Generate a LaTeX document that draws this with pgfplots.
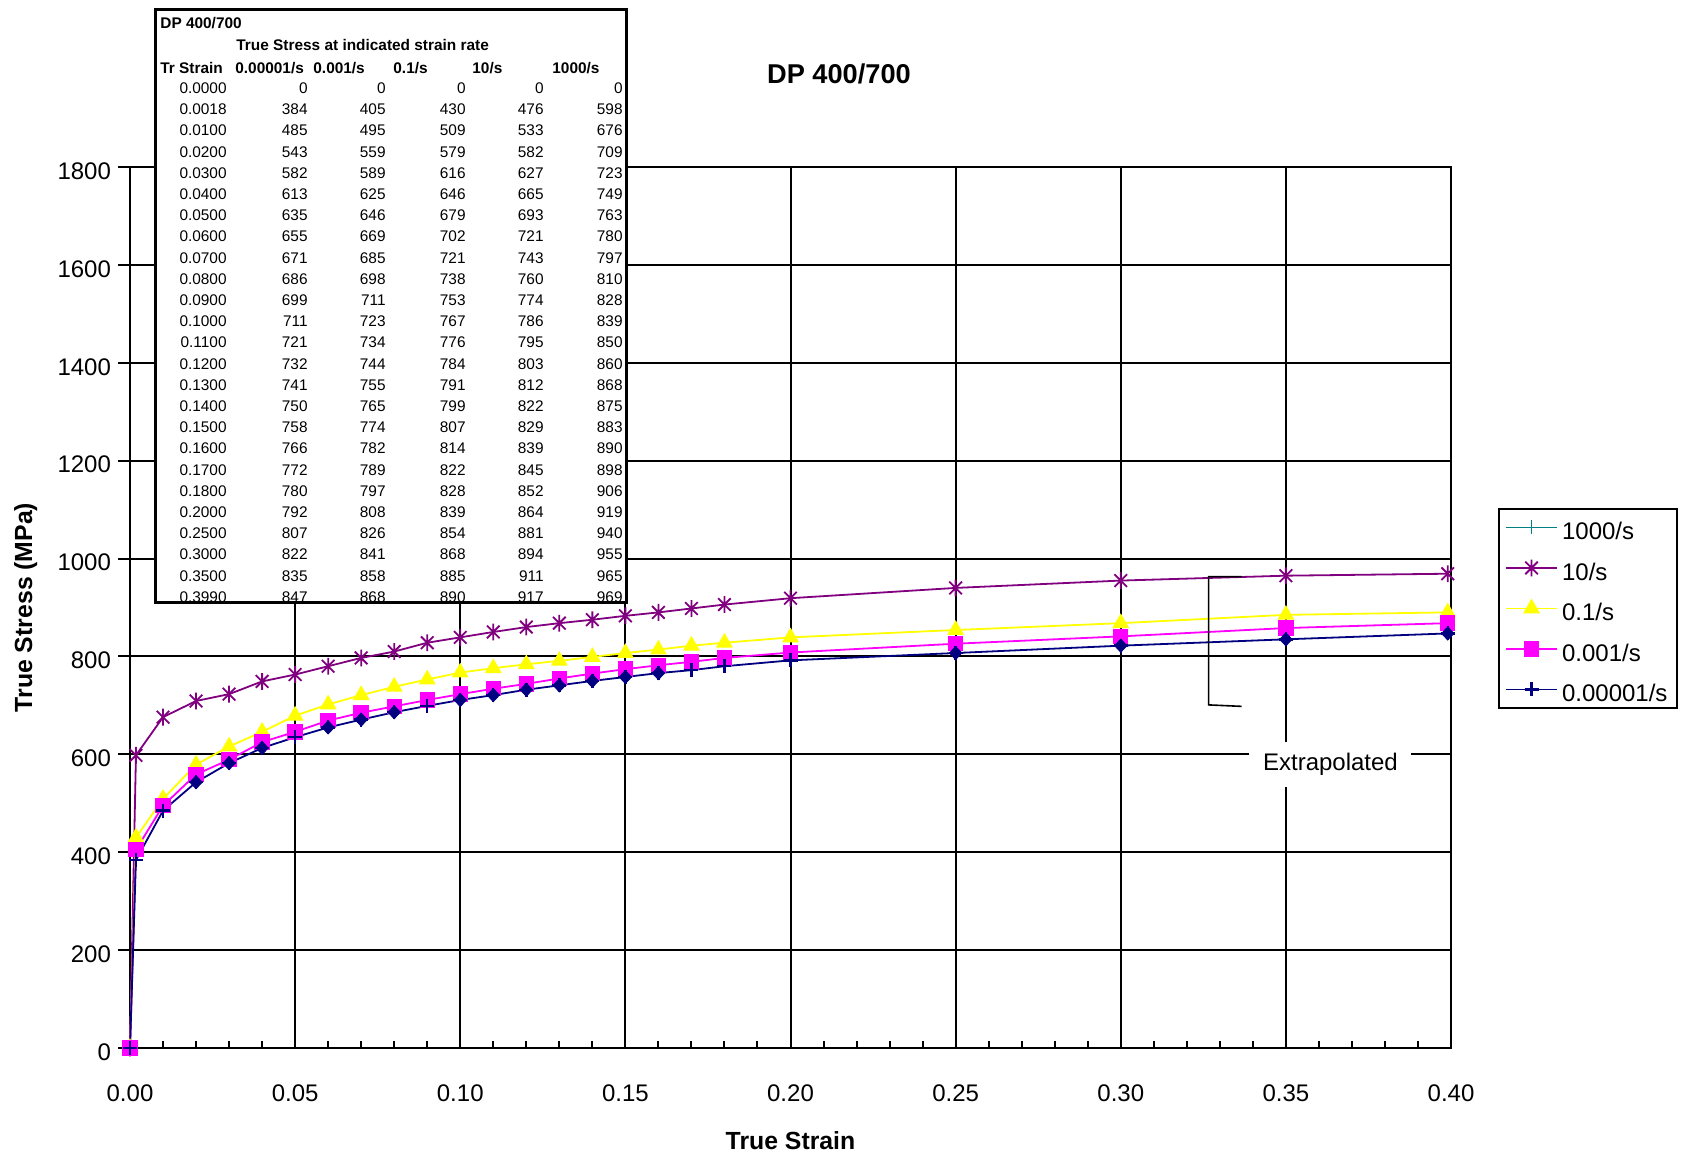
\documentclass[border=0pt]{standalone}
\usepackage{pgfplots}
\pgfplotsset{compat=1.18}
\usepackage{pgfplotstable}
\usepackage{fontspec}
\setmainfont{Liberation Sans}

\definecolor{cnavy}{RGB}{0,0,128}
\definecolor{cpurple}{RGB}{128,0,128}
\definecolor{cyellow}{RGB}{255,255,0}
\definecolor{cmagenta}{RGB}{255,0,255}
\definecolor{cteal}{RGB}{0,128,128}

\pgfdeclareplotmark{xstar}{%
  \pgfpathmoveto{\pgfqpoint{0pt}{\pgfplotmarksize}}%
  \pgfpathlineto{\pgfqpoint{0pt}{-\pgfplotmarksize}}%
  \pgfpathmoveto{\pgfqpoint{-.75\pgfplotmarksize}{.75\pgfplotmarksize}}%
  \pgfpathlineto{\pgfqpoint{.75\pgfplotmarksize}{-.75\pgfplotmarksize}}%
  \pgfpathmoveto{\pgfqpoint{-.75\pgfplotmarksize}{-.75\pgfplotmarksize}}%
  \pgfpathlineto{\pgfqpoint{.75\pgfplotmarksize}{.75\pgfplotmarksize}}%
  \pgfusepathqstroke}

\pgfplotstableread{
x s1 s2 s3 s4 s5
0.0000 0 0 0 0 0
0.0018 384 405 430 476 598
0.0100 485 495 509 533 676
0.0200 543 559 579 582 709
0.0300 582 589 616 627 723
0.0400 613 625 646 665 749
0.0500 635 646 679 693 763
0.0600 655 669 702 721 780
0.0700 671 685 721 743 797
0.0800 686 698 738 760 810
0.0900 699 711 753 774 828
0.1000 711 723 767 786 839
0.1100 721 734 776 795 850
0.1200 732 744 784 803 860
0.1300 741 755 791 812 868
0.1400 750 765 799 822 875
0.1500 758 774 807 829 883
0.1600 766 782 814 839 890
0.1700 772 789 822 845 898
0.1800 780 797 828 852 906
0.2000 792 808 839 864 919
0.2500 807 826 854 881 940
0.3000 822 841 868 894 955
0.3500 835 858 885 911 965
0.3990 847 868 890 917 969
}\datatable

\begin{document}
\begin{tikzpicture}
\useasboundingbox (0,0) rectangle (842pt,578.5pt);
\begin{axis}[
  at={(65pt,54.5pt)}, anchor=south west,
  scale only axis, width=660.5pt, height=440.5pt,
  xmin=0, xmax=0.4, ymin=0, ymax=1800,
  clip=false,
  xtick={0,0.05,0.1,0.15,0.2,0.25,0.3,0.35,0.4},
  ytick={0,200,400,600,800,1000,1200,1400,1600,1800},
  minor x tick num=4,
  xtick pos=bottom, ytick pos=left,
  tick align=inside,
  major tick length=6pt, minor tick length=3.5pt,
  ytick style={xshift=-6pt, line width=1pt, black},
  minor x tick style={line width=1pt, black},
  major x tick style={line width=1pt, black},
  grid=major,
  major grid style={black, line width=1pt},
  axis line style={line width=1pt, black},
  ticklabel style={font=\fontsize{12}{14}\selectfont},
  /pgf/number format/assume math mode=true,
  xticklabel style={yshift=-15pt, /pgf/number format/.cd, fixed, fixed zerofill, precision=2},
  yticklabel style={xshift=-6pt, yshift=-2pt, /pgf/number format/.cd, 1000 sep={}},
  xlabel={True Strain},
  ylabel={True Stress (MPa)},
  every axis x label/.style={at={(axis description cs:0.5,-0.1056)}, anchor=center, font=\bfseries\fontsize{12.4}{14}\selectfont},
  every axis y label/.style={at={(axis description cs:-0.079,0.5)}, rotate=90, anchor=center, font=\bfseries\fontsize{12.4}{14}\selectfont},
  legend style={at={(axis description cs:1.0356,0.613)}, anchor=north west, draw=black, line width=1pt, fill=white,
    font=\fontsize{12}{14}\selectfont, inner xsep=3pt, inner ysep=1pt, row sep=3.75pt,
    nodes={inner sep=2pt, text height=12.5pt, text depth=0pt}},
  legend cell align=left,
  legend image code/.code={\draw[mark repeat=2,mark phase=2,#1] plot coordinates {(0cm,0cm) (0.45cm,0cm) (0.9cm,0cm)};},
]
\addlegendimage{cteal, line width=0.9pt, mark=+, mark size=3.5pt}
\addlegendentry{1000/s}
\addplot[cpurple, line width=0.9pt, mark=xstar, mark size=4.2pt, mark options={line width=0.9pt}] table[x=x,y=s5] {\datatable};
\addlegendentry{10/s}
\addplot[cyellow, line width=0.9pt, mark=triangle*, mark size=4pt, mark options={fill=cyellow, draw=cyellow}] table[x=x,y=s3] {\datatable};
\addlegendentry{0.1/s}
\addplot[cmagenta, line width=0.9pt, mark=square*, mark size=3.4pt, mark options={fill=cmagenta, draw=cmagenta}] table[x=x,y=s2] {\datatable};
\addlegendentry{0.001/s}
\addplot[cnavy, line width=0.9pt, mark=+, mark size=3.5pt, mark options={line width=1.2pt}] table[x=x,y=s1] {\datatable};
\addlegendentry{0.00001/s\hspace{10pt}}
\addplot[forget plot, only marks, cnavy, mark=diamond*, mark size=3.3pt, mark options={xscale=1.25, fill=cnavy, draw=cnavy}] coordinates {
 (0.02,543) (0.03,582) (0.04,613) (0.06,655) (0.07,671) (0.08,686) (0.10,711) (0.11,721) (0.12,732)
 (0.13,741) (0.14,750) (0.15,758) (0.16,766) (0.25,807) (0.30,822) (0.35,835) (0.399,847)};
% extrapolated bracket
\draw[black, line width=0.8pt] (axis cs:0.3366,963) -- (axis cs:0.3266,963) -- (axis cs:0.3266,701) -- (axis cs:0.3366,698);
\node[fill=white, inner sep=0pt, minimum width=81pt, minimum height=22.5pt, font=\fontsize{12}{14}\selectfont] at (axis cs:0.3635,579) {Extrapolated};
\end{axis}

\begin{scope}[x=0.5pt, y=-0.5pt, shift={(0pt,578.5pt)}]
% title
\node[font=\bfseries\fontsize{13.6}{16}\selectfont, inner sep=0pt] at (839,74) {DP 400/700};
% inset table
\fill[white] (155,10) rectangle (626,603);
\begin{scope}
\clip (157,12) rectangle (624,601.5);
\begin{scope}[every node/.style={inner sep=0pt, font=\fontsize{7.7}{9}\selectfont}]
\node[anchor=base west, font=\bfseries\fontsize{7.7}{9}\selectfont] at (160,28.5) {DP 400/700};
\node[anchor=base west, font=\bfseries\fontsize{7.7}{9}\selectfont] at (236,50.5) {True Stress at indicated strain rate};
\node[anchor=base west, font=\bfseries\fontsize{7.7}{9}\selectfont] at (160,73.5) {Tr Strain};
\node[anchor=base west, font=\bfseries\fontsize{7.7}{9}\selectfont] at (235,73.5) {0.00001/s};
\node[anchor=base west, font=\bfseries\fontsize{7.7}{9}\selectfont] at (313,73.5) {0.001/s};
\node[anchor=base west, font=\bfseries\fontsize{7.7}{9}\selectfont] at (393,73.5) {0.1/s};
\node[anchor=base west, font=\bfseries\fontsize{7.7}{9}\selectfont] at (472,73.5) {10/s};
\node[anchor=base west, font=\bfseries\fontsize{7.7}{9}\selectfont] at (552,73.5) {1000/s};
\foreach \ri/\ra/\rb/\rc/\rd/\re/\rf in {
 0/0.0000/0/0/0/0/0,
 1/0.0018/384/405/430/476/598,
 2/0.0100/485/495/509/533/676,
 3/0.0200/543/559/579/582/709,
 4/0.0300/582/589/616/627/723,
 5/0.0400/613/625/646/665/749,
 6/0.0500/635/646/679/693/763,
 7/0.0600/655/669/702/721/780,
 8/0.0700/671/685/721/743/797,
 9/0.0800/686/698/738/760/810,
 10/0.0900/699/711/753/774/828,
 11/0.1000/711/723/767/786/839,
 12/0.1100/721/734/776/795/850,
 13/0.1200/732/744/784/803/860,
 14/0.1300/741/755/791/812/868,
 15/0.1400/750/765/799/822/875,
 16/0.1500/758/774/807/829/883,
 17/0.1600/766/782/814/839/890,
 18/0.1700/772/789/822/845/898,
 19/0.1800/780/797/828/852/906,
 20/0.2000/792/808/839/864/919,
 21/0.2500/807/826/854/881/940,
 22/0.3000/822/841/868/894/955,
 23/0.3500/835/858/885/911/965,
 24/0.3990/847/868/890/917/969}{
  \pgfmathsetmacro\yy{93.5+21.2*\ri}
  \node[anchor=base east] at (227,\yy) {\ra};
  \node[anchor=base east] at (308,\yy) {\rb};
  \node[anchor=base east] at (386,\yy) {\rc};
  \node[anchor=base east] at (466,\yy) {\rd};
  \node[anchor=base east] at (544,\yy) {\re};
  \node[anchor=base east] at (623,\yy) {\rf};
}
\end{scope}
\end{scope}
\draw[black, line width=1.5pt] (155,10) rectangle (626,603);
\end{scope}
\end{tikzpicture}
\end{document}
